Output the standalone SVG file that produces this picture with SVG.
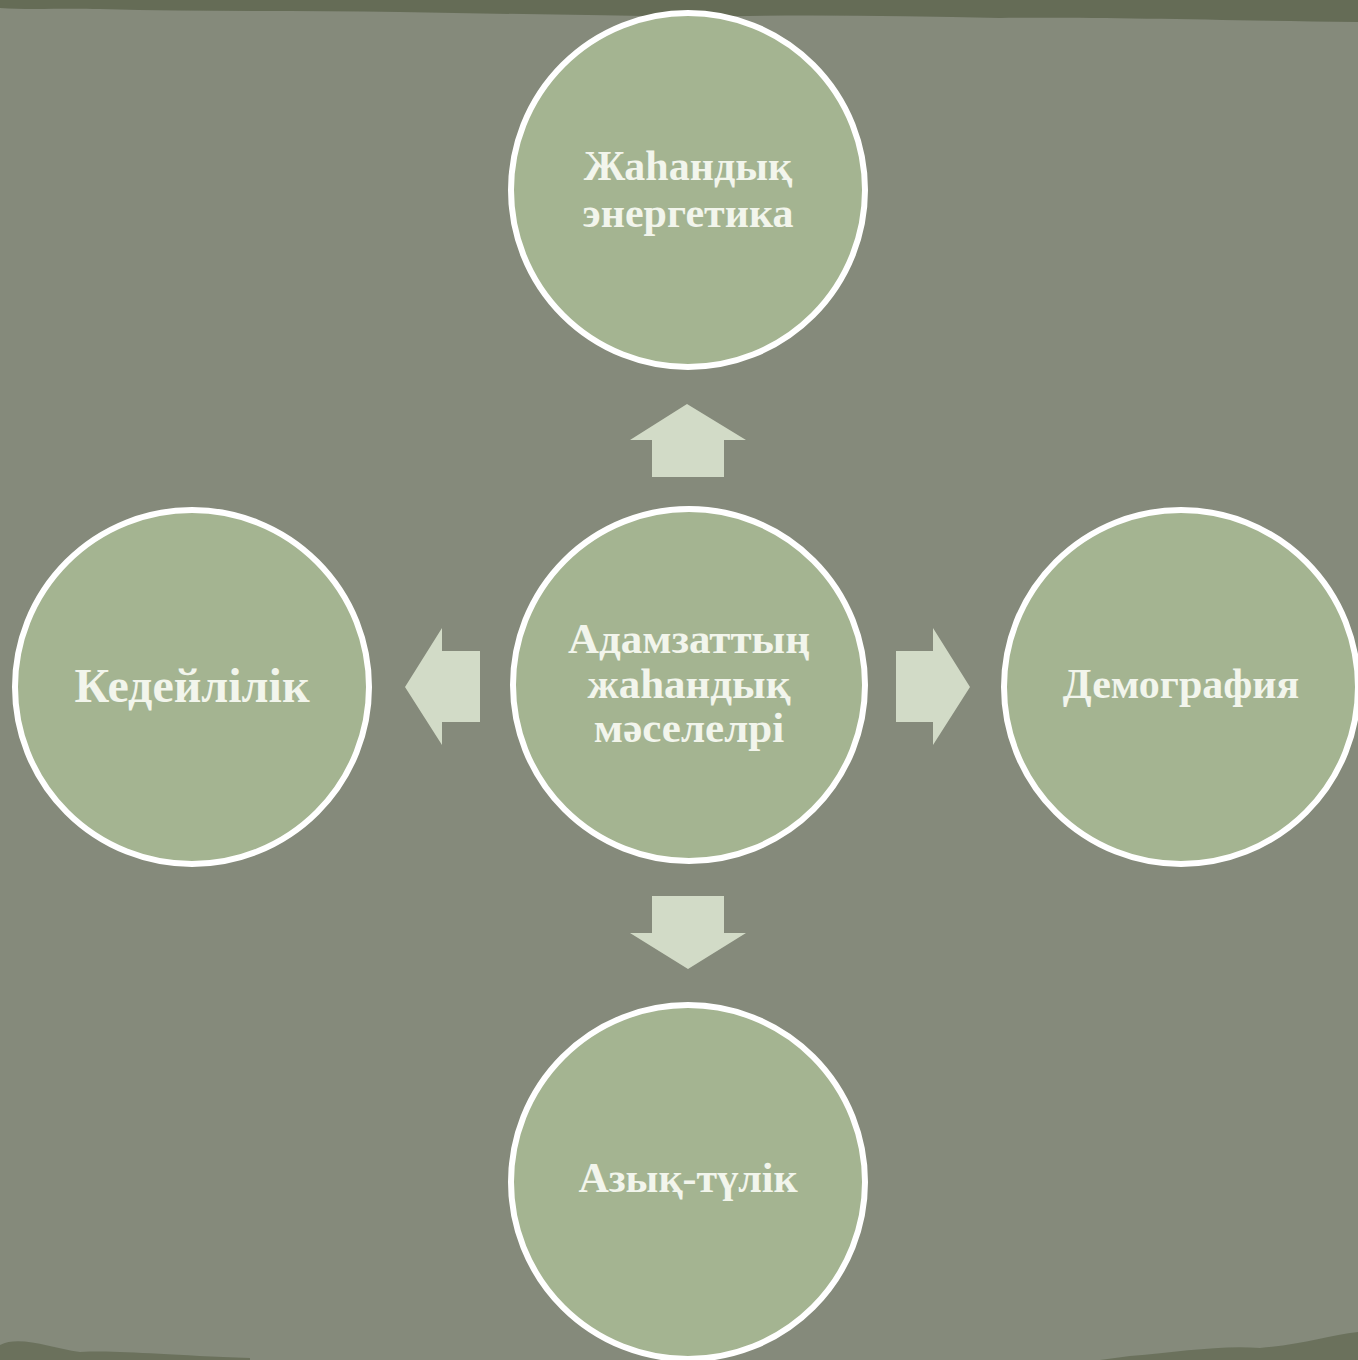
<svg xmlns="http://www.w3.org/2000/svg" width="1358" height="1360" viewBox="0 0 1358 1360">
<style>
.bg{fill:#858a7b}
.node circle{fill:#a4b491;stroke:#ffffff;stroke-width:6}
.node text{font-family:"Liberation Serif","Times New Roman",serif;font-weight:bold;fill:#f2f5ec;text-anchor:middle}
.arrow{fill:#d2dbc7}
</style>
<rect class="bg" x="0" y="0" width="1358" height="1360"/>
<path d="M0 0 H1358 V22 C1200 20 1100 17 1000 18 C900 16 800 14 700 17 C600 15 500 14 400 12 C300 10 200 12 100 9 C60 8 30 10 0 8 Z" fill="#5f6650" opacity="0.85"/>
<path d="M0 1360 V1345 C20 1335 50 1348 80 1352 C120 1350 160 1355 250 1358 L250 1360 Z" fill="#5f6650" opacity="0.7"/>
<path d="M1358 1360 V1332 C1330 1335 1300 1345 1260 1348 C1220 1345 1180 1352 1130 1356 L1100 1360 Z" fill="#5f6650" opacity="0.7"/>
<g id="connectors">
<polygon class="arrow" points="687,404 746,440 724,440 724,477 652,477 652,440 630,440"/>
<polygon class="arrow" points="688,969 746,933 724,933 724,896 652,896 652,933 630,933"/>
<polygon class="arrow" points="405,687 442,628 442,651 480,651 480,722 442,722 442,745"/>
<polygon class="arrow" points="970,687 933,628 933,651 896,651 896,722 933,722 933,745"/>
</g>
<g id="node-center" class="node">
<circle cx="689" cy="685" r="176"/>
<text x="689" y="653" font-size="43">Адамзаттың</text>
<text x="689" y="698" font-size="43">жаһандық</text>
<text x="689" y="742" font-size="43">мәселелрі</text>
</g>
<g id="node-top" class="node">
<circle cx="688" cy="190" r="177"/>
<text x="688" y="180" font-size="42">Жаһандық</text>
<text x="688" y="227" font-size="42">энергетика</text>
</g>
<g id="node-left" class="node">
<circle cx="192" cy="687" r="177"/>
<text x="192" y="702" font-size="48">Кедейлілік</text>
</g>
<g id="node-right" class="node">
<circle cx="1181" cy="687" r="177"/>
<text x="1181" y="698" font-size="42">Демография</text>
</g>
<g id="node-bottom" class="node">
<circle cx="688" cy="1182" r="177"/>
<text x="688" y="1192" font-size="42">Азық-түлік</text>
</g>
</svg>
